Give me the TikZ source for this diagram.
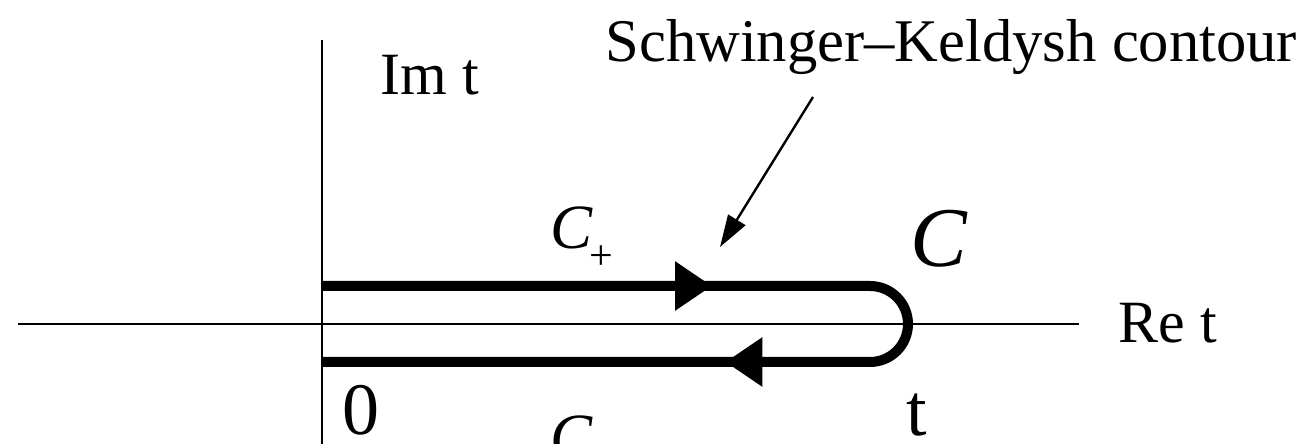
\documentclass[tikz,border=0pt]{standalone}
\usepackage{fontspec}
\setmainfont{Liberation Serif}
\usetikzlibrary{arrows.meta,decorations.markings}

\tikzset{
  axisline/.style={line width=1.4pt, black},
  contourline/.style={line width=5pt, black},
  lbl/.style={inner sep=0pt, anchor=base west},
}

\begin{document}
\begin{tikzpicture}[x=0.5pt, y=0.5pt]

% Frame of the picture (pixel units)
\useasboundingbox (0,0) rectangle (1308,444);
\clip (0,0) rectangle (1308,444);

% --- THE AXES ---
\coordinate (imtop) at (322,404);
\coordinate (imbot) at (322,0);
\coordinate (releft) at (18,120);
\coordinate (reright) at (1079,120);
\draw[axisline] (imbot) -- (imtop);
\draw[axisline] (releft) -- (reright);

% Axis labels
\node[lbl, font=\fontsize{30}{30}\selectfont] (imlabel) at (380,349) {Im t};
\node[lbl, font=\fontsize{30}{30}\selectfont] (relabel) at (1118,101) {Re t};
\node[lbl, font=\fontsize{37}{37}\selectfont] (zero) at (342,9) {0};
\node[lbl, font=\fontsize{37}{37}\selectfont] (tend) at (906,8) {t};

% --- THE CONTOUR (forward branch, turn at t, backward branch) ---
\coordinate (start) at (322,158);
\coordinate (turn) at (870,158);
\coordinate (back) at (322,82);
\draw[contourline, line cap=butt,
  decoration={markings,
    mark=at position 195pt with {\arrow{Triangle[length=18.5pt, width=23.5pt]}},
    mark=at position 406pt with {\arrow{Triangle[length=18.5pt, width=23.5pt]}}},
  postaction={decorate}]
  (start) -- (turn) arc[start angle=90, end angle=-90, radius=19pt] -- (back);

% Branch labels
\node[lbl, font=\fontsize{31.5}{31.5}\selectfont] (cplus) at (550,195)
  {\textit{C}\kern-2pt\raisebox{-10.5pt}{\fontsize{21}{21}\selectfont +}};
\node[lbl, font=\fontsize{31.5}{31.5}\selectfont] (cminus) at (550,-14)
  {\textit{C}\kern-2pt\raisebox{-10.5pt}{\fontsize{21}{21}\selectfont −}};
\node[lbl, font=\fontsize{42.5}{42.5}\selectfont] (cbig) at (910,177) {\textit{C}};

% --- THE NAME AND ITS POINTER ---
\node[lbl, font=\fontsize{30.3}{30.3}\selectfont] (title) at (605,382) {Schwinger--Keldysh contour};
\coordinate (pointfrom) at (813,347);
\coordinate (pointto) at (720,197);
\draw[line width=1.2pt, -{Triangle[length=16pt, width=10pt]}] (pointfrom) -- (pointto);

\end{tikzpicture}
\end{document}
